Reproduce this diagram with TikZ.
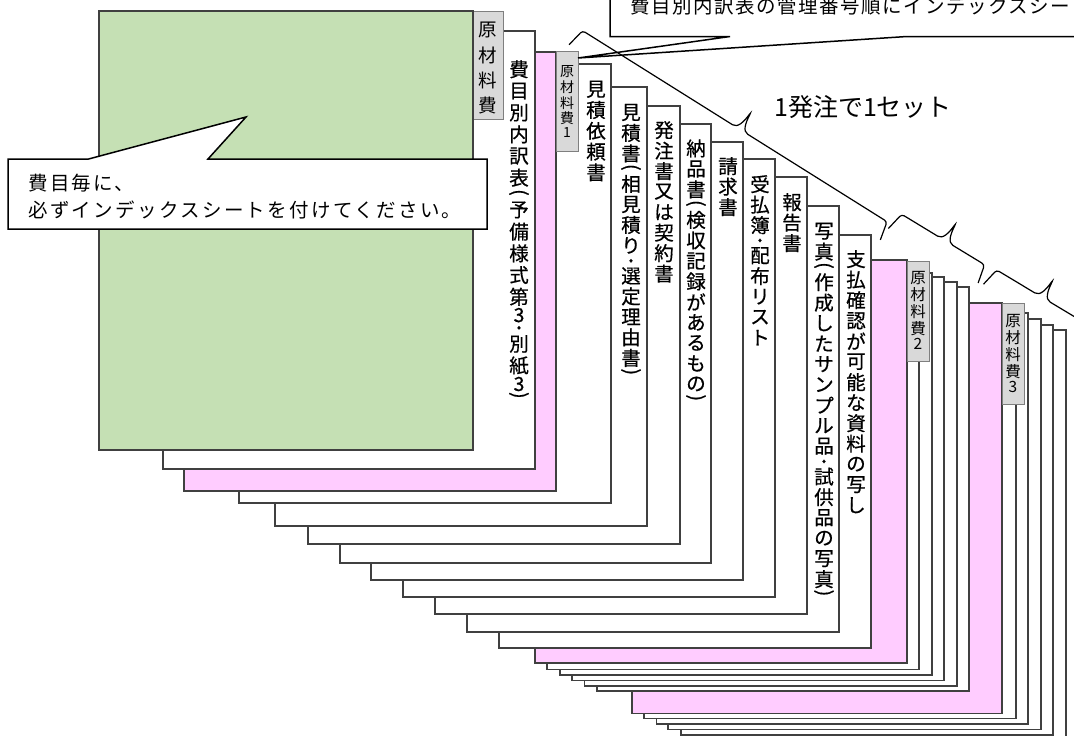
\documentclass[tikz,border=0pt]{standalone}
\usepackage{fontspec}
\usepackage{graphicx}
\usetikzlibrary{calc}
\newfontfamily\jp{Noto Sans CJK JP}
\definecolor{leaf}{HTML}{C5E0B4}
\definecolor{rose}{HTML}{FFCCFF}
\definecolor{tabgray}{HTML}{D9D9D9}
\definecolor{edge}{HTML}{404040}
\definecolor{tabedge}{HTML}{7F7F7F}
\newdimen\vpitch \vpitch=20.5pt
\newdimen\dgpitch \dgpitch=15pt
\newdimen\smpitch \smpitch=10pt
\def\vtEnd{\vtEnd}
\def\vbx#1#2{\vbox to #1{\vss\hbox to 0pt{\hss#2\hss}\vss}}
\def\vtxt#1{\vbox{\offinterlineskip\vtA#1\vtEnd}}
\def\vtA#1{\ifx#1\vtEnd\else\vtB#1\expandafter\vtA\fi}
\def\vdot{{\fontsize{13}{13}\selectfont\smash{\lower0.3em\hbox{•}}}}
\def\vtB#1{%
  \ifx#1（\vbx{\smpitch}{\rotatebox[origin=c]{-90}{(}}%
  \else\ifx#1）\vbx{\smpitch}{\rotatebox[origin=c]{-90}{)}}%
  \else\ifx#1・\vbx{\smpitch}{\vdot}%
  \else\ifx#11\vbx{\dgpitch}{1}%
  \else\ifx#12\vbx{\dgpitch}{2}%
  \else\ifx#13\vbx{\dgpitch}{3}%
  \else\vbx{\vpitch}{#1}%
  \fi\fi\fi\fi\fi\fi}
\newcommand\sht[5]{\filldraw[sheetline, fill=#1] (#2,#3) rectangle (#4,#5);}
\newcommand\brc[5]{%
  \begin{scope}[shift={(#1,#2)}, rotate=-#3]
    \draw[bracel, rounded corners=3pt] (-4,19) -- (0,0) -- (#5-12,0)
      .. controls (#5-3,0) and (#5-1,-8) .. (#5,-21)
      .. controls (#5+1,-8) and (#5+3,0) .. (#5+12,0) -- (#4,0) -- (#4+4,19);
  \end{scope}}
\begin{document}
\begin{tikzpicture}[x=1pt,y=-1pt,
  sheetline/.style={draw=edge, line width=1.3pt},
  tabbox/.style={draw=tabedge, fill=tabgray, line width=1pt},
  vlab/.style={font=\jp\fontsize{19.5}{20}\selectfont\addfontfeature{FakeBold=0.6}, inner sep=0pt, anchor=north},
  tablab/.style={font=\jp\fontsize{15.5}{16}\selectfont, inner sep=0pt, anchor=north},
  callout/.style={draw=black, fill=white, line width=1.5pt, line join=miter},
  ctext/.style={font=\jp\fontsize{19.5}{22}\selectfont\addfontfeature{LetterSpace=12}, inner sep=0pt, anchor=west},
  bracel/.style={draw=black, line width=1.2pt}]
\useasboundingbox (0,0) rectangle (1074,736);
\fill[white] (0,0) rectangle (1074,736);
\clip (0,0) rectangle (1074,736);
% group 3
\sht{white}{693}{330}{1066}{745}
\sht{white}{681}{325}{1053}{735}
\sht{white}{668}{319}{1041}{729.3}
\sht{white}{656.5}{313}{1028}{724}
\sht{white}{644}{308}{1016}{718.5}
\sht{rose}{632}{303}{1002}{713.3}
\filldraw[tabbox] (1002,303) rectangle (1024,404);
\node[tablab] (tab3) at (1013,312) {\vpitch=17pt\dgpitch=14pt\vtxt{原材料費3}};
% group 2
\sht{white}{597}{287}{969}{691}
\sht{white}{584.5}{282}{957}{686}
\sht{white}{572}{277}{944}{680.5}
\sht{white}{560}{273}{932}{675}
\sht{white}{547}{268}{919}{669.3}
\sht{rose}{535}{260}{907}{663}
\filldraw[tabbox] (907,261) rectangle (929,361);
\node[tablab] (tab2) at (918,269) {\vpitch=17pt\dgpitch=14pt\vtxt{原材料費2}};
% group 1
\sht{white}{499}{235}{871}{648}
\node[vlab] (s11) at (856,248.7) {\vtxt{支払確認が可能な資料の写し}};
\sht{white}{467}{206}{839}{632}
\node[vlab] (s10) at (824,220.7) {\vtxt{写真（作成したサンプル品・試供品の写真）}};
\sht{white}{435}{177}{807}{614}
\node[vlab] (s9) at (792,191.7) {\vtxt{報告書}};
\sht{white}{403}{159}{775}{597}
\node[vlab] (s8) at (760,173.7) {\vtxt{受払簿・配布リスト}};
\sht{white}{371}{142}{743}{580}
\node[vlab] (s7) at (728,155.7) {\vtxt{請求書}};
\sht{white}{340}{124}{711}{563}
\node[vlab] (s6) at (696,138) {\vtxt{納品書（検収記録があるもの）}};
\sht{white}{308}{106}{680}{544}
\node[vlab] (s5) at (664,119.7) {\vtxt{発注書又は契約書}};
\sht{white}{275}{87}{647}{526}
\node[vlab] (s4) at (631,102) {\vtxt{見積書（相見積り・選定理由書）}};
\sht{white}{239}{64}{611}{503}
\node[vlab] (s3) at (596,78.6) {\vpitch=20.8pt\vtxt{見積依頼書}};
\sht{rose}{184}{52}{556}{491}
\filldraw[tabbox] (556,51) rectangle (578,151);
\node[tablab, font=\jp\fontsize{14}{14}\selectfont] (tab1) at (567,64) {\vpitch=15.5pt\dgpitch=13pt\vtxt{原材料費1}};
\sht{white}{163}{31}{535}{469}
\node[vlab] (s1) at (519,58.2) {\vpitch=21.7pt\smpitch=10.5pt\vtxt{費目別内訳表（予備様式第3・別紙3）}};
\filldraw[tabbox] (473,11) rectangle (503,119);
\node[vlab, font=\jp\fontsize{18.5}{19}\selectfont] (tab0) at (488,17.5) {\vpitch=25pt\vtxt{原材料費}};
\sht{leaf}{99}{11}{473}{450}
% callouts
\draw[callout] (8,159) -- (88.6,159) -- (246,117) -- (208,159) -- (487,159) -- (487,229) -- (8,229) -- cycle;
\node[ctext] (c1) at (28,183) {費目毎に、};
\node[ctext] (c2) at (28,210) {必ずインデックスシートを付けてください。};
\draw[callout] (1090,-20) -- (610,-20) -- (610,36.5) -- (730,36.5) -- (578,58) -- (907,36.5) -- (1090,36.5) -- cycle;
\node[ctext, font=\jp\fontsize{19.5}{22}\selectfont\addfontfeature{LetterSpace=8}] (c3) at (630,6) {費目別内訳表の管理番号順にインデックスシー};
% braces
\brc{582.6}{30.7}{32.1}{359.4}{186}
\brc{901.7}{214.3}{31.3}{97}{51}
\brc{996.7}{270}{31}{110}{53.4}
\node[font=\jp\fontsize{25}{26}\selectfont, inner sep=0pt] (set) at (863,107) {1発注で1セット};
\end{tikzpicture}
\end{document}
